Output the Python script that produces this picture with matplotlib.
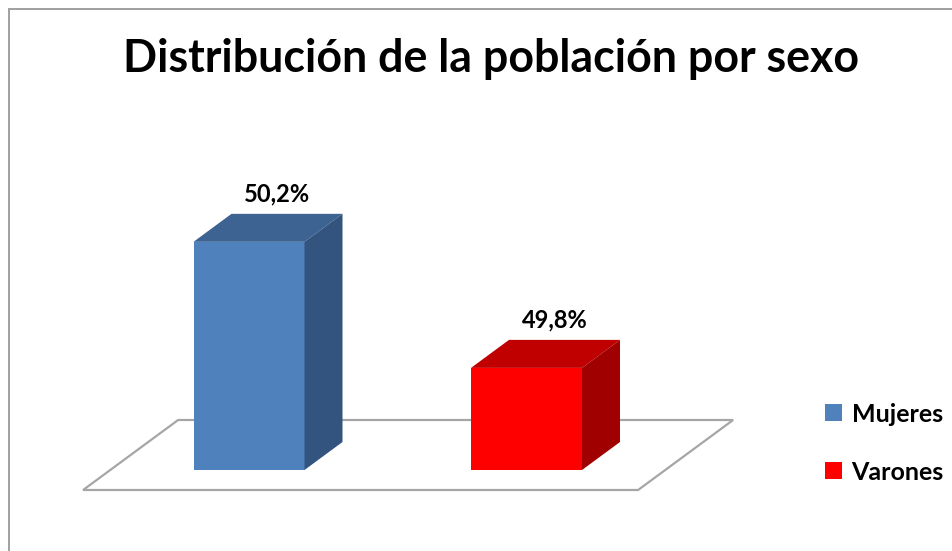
import matplotlib
matplotlib.use("Agg")
import matplotlib.pyplot as plt
from matplotlib.patches import Polygon, Rectangle
from matplotlib.transforms import IdentityTransform
import numpy as np

categories = ["Mujeres", "Varones"]
values = [50.2, 49.8]
labels = ["50,2%", "49,8%"]
title = "Distribución de la población por sexo"

front_colors = ["#4f81bd", "#ff0000"]
top_colors = ["#3d6392", "#c00000"]
side_colors = ["#32547f", "#a00000"]

W, H = 952, 551
DPI = 100
fig = plt.figure(figsize=(W / DPI, H / DPI), dpi=DPI)
fig.patch.set_facecolor("white")

ymin, ymax = 49.476, 50.301
ax = fig.add_axes([110.25 / W, (H - 470) / H, 555 / W, 260 / H])
ax.set_xlim(-0.5, 1.5)
ax.set_ylim(ymin, ymax)
ax.axis("off")

DX, DY = 38.0, 28.0
def off(pt, d):
    return (pt[0] + DX * d / DY, pt[1] + d)

def disp(x, y):
    return ax.transData.transform((x, y))

def add_poly(pts, **kw):
    p = Polygon(pts, closed=True, transform=IdentityTransform(), clip_on=False, **kw)
    ax.add_patch(p)
    return p

# floor
fl = [off(disp(-0.5, ymin), -20), off(disp(1.5, ymin), -20),
      off(disp(1.5, ymin), 50), off(disp(-0.5, ymin), 50)]
add_poly(fl, facecolor="white", edgecolor="#a6a6a6", lw=1.6, zorder=1)

w = 0.4
x = np.arange(len(categories))
bars = ax.bar(x, np.array(values) - ymin, bottom=ymin, width=w,
              color=front_colors, zorder=3, clip_on=False)

for xi, v, tc, sc, lab in zip(x, values, top_colors, side_colors, labels):
    fl_ = disp(xi - w / 2, v)
    fr = disp(xi + w / 2, v)
    br = disp(xi + w / 2, ymin)
    add_poly([fl_, fr, off(fr, DY), off(fl_, DY)], facecolor=tc, edgecolor="none", zorder=4)
    add_poly([br, fr, off(fr, DY), off(br, DY)], facecolor=sc, edgecolor="none", zorder=4)
    c = disp(xi, v)
    fig.text((c[0] + 28) / W, (c[1] + DY + 20) / H, lab, ha="center", va="center",
             fontsize=17, fontweight="bold", family="Lato", color="black")

fig.text(491 / W, (H - 59) / H, title, ha="center", va="center",
         fontsize=32.2, fontweight="bold", family="Lato", color="black")

leg = fig.legend(bars, categories, loc="upper left",
                 bbox_to_anchor=(812 / W, (H - 390) / H), frameon=False,
                 prop={"family": "Lato", "weight": "bold", "size": 18},
                 handlelength=0.68, handleheight=0.68, handletextpad=0.4,
                 labelspacing=1.4, borderpad=0)

fig.patches.append(Rectangle((9 / W, -0.1), 1.2, 1 - 9 / H + 0.1,
                             transform=fig.transFigure, facecolor="none",
                             edgecolor="#a0a0a0", lw=1.4, zorder=0))

fig.savefig("out.png", dpi=DPI, facecolor="white")
